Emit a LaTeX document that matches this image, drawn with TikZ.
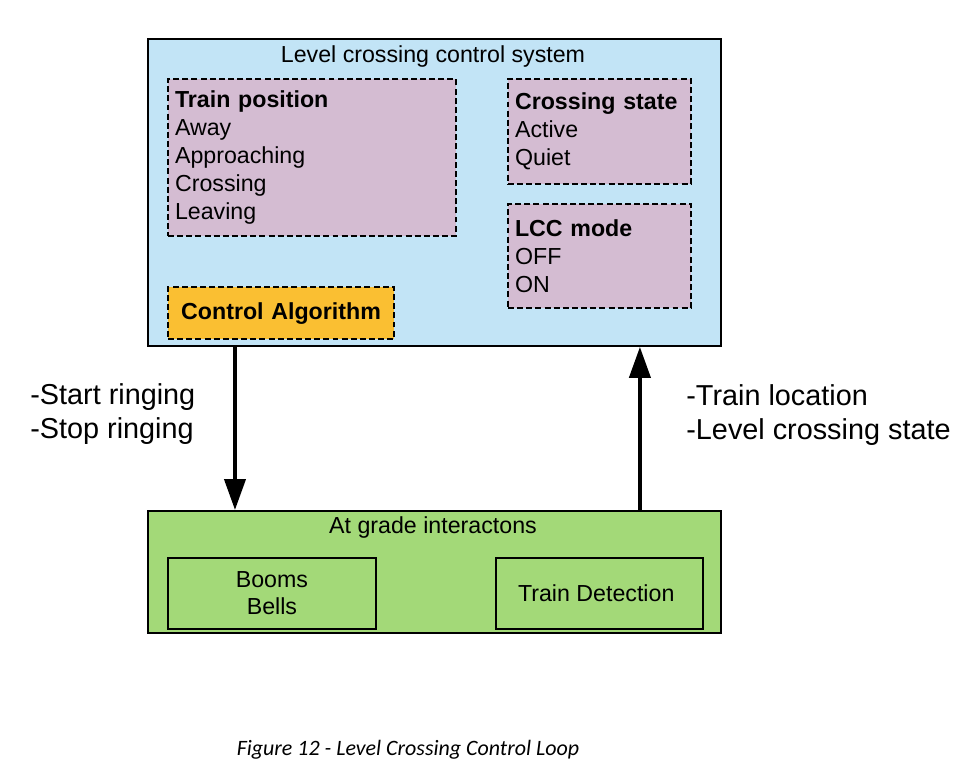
\documentclass[tikz,border=0pt]{standalone}
\usepackage{fontspec}
\setmainfont{Liberation Sans}
\newfontfamily\captionfont{Carlito}
\usetikzlibrary{arrows.meta,positioning}
\definecolor{sysblue}{HTML}{C2E4F6}
\definecolor{statepurple}{HTML}{D4BCD2}
\definecolor{algoorange}{HTML}{FABF32}
\definecolor{gradegreen}{HTML}{A3D978}

\begin{document}
\begin{tikzpicture}
    [
      x=0.02cm,
      y=-0.02cm,
      outer/.style=
      {
        draw,
        line width=1.1pt,
        anchor=north west,
        inner sep=0pt,
        minimum width=11.46cm
      },
      state/.style=
      {
        draw,
        fill=statepurple,
        line width=1.2pt,
        dash pattern=on 3.4pt off 1.8pt,
        anchor=north west,
        align=left,
        inner xsep=0.14cm,
        inner ysep=0pt,
        font=\fontsize{13.2}{15.9}\selectfont
      },
      device/.style=
      {
        draw,
        line width=1.1pt,
        anchor=north west,
        align=center,
        inner sep=0pt,
        minimum height=1.42cm,
        font=\fontsize{13.2}{15.4}\selectfont
      },
      title/.style=
      {
        font=\fontsize{13.2}{15}\selectfont
      },
      flowtxt/.style=
      {
        anchor=west,
        align=left,
        inner sep=0pt,
        font=\fontsize{16.4}{19.8}\selectfont
      },
      flow/.style=
      {
        line width=2.3pt,
        -{Triangle[length=0.62cm,width=0.42cm]}
      }
    ]
    \useasboundingbox (0,0) rectangle (972,772);

    % control system
    \node[outer, fill=sysblue, minimum height=6.14cm](lcs) at (147,38) {};
    \node[title](lcstitle) at (433,56)
    {
      Level crossing control system
    };
    \node[state, text width=5.48cm, minimum height=3.14cm](trainpos) at (167,78)
    {
      \textbf{Train position}\\ Away\\ Approaching\\ Crossing\\ Leaving
    };
    \node[state, text width=3.38cm, minimum height=2.10cm](crossstate) at (507,78)
    {
      \textbf{Crossing state}\\ Active\\ Quiet
    };
    \node[state, text width=3.38cm, minimum height=2.08cm](lccmode) at (507,203)
    {
      \textbf{LCC mode}\\ OFF\\ ON
    };
    \node[state, fill=algoorange, align=center, text width=4.24cm, minimum height=1.04cm](algo) at (167,286)
    {
      \textbf{Control Algorithm}
    };

    % at grade
    \node[outer, fill=gradegreen, minimum height=2.44cm](agi) at (147,510) {};
    \node[title](agititle) at (433,527)
    {
      At grade interactons
    };
    \node[device, minimum width=4.16cm](booms) at (167,557)
    {
      Booms\\ Bells
    };
    \node[device, minimum width=4.14cm](traindet) at (495,557)
    {
      Train Detection
    };

    % loop
    \draw[flow] ([xshift=1.76cm]lcs.south west) -- ([xshift=1.76cm]agi.north west);
    \draw[flow] ([xshift=9.86cm]agi.north west) -- ([xshift=9.86cm]lcs.south west);
    \node[flowtxt](cmdtxt) at (30,414)
    {
      -Start ringing\\ -Stop ringing
    };
    \node[flowtxt](statustxt) at (686,415)
    {
      -Train location\\ -Level crossing state
    };

    \node[font=\captionfont\itshape\fontsize{12.5}{14}\selectfont](caption) at (408,750)
    {
      Figure 12 - Level Crossing Control Loop
    };
  \end{tikzpicture}
\end{document}
